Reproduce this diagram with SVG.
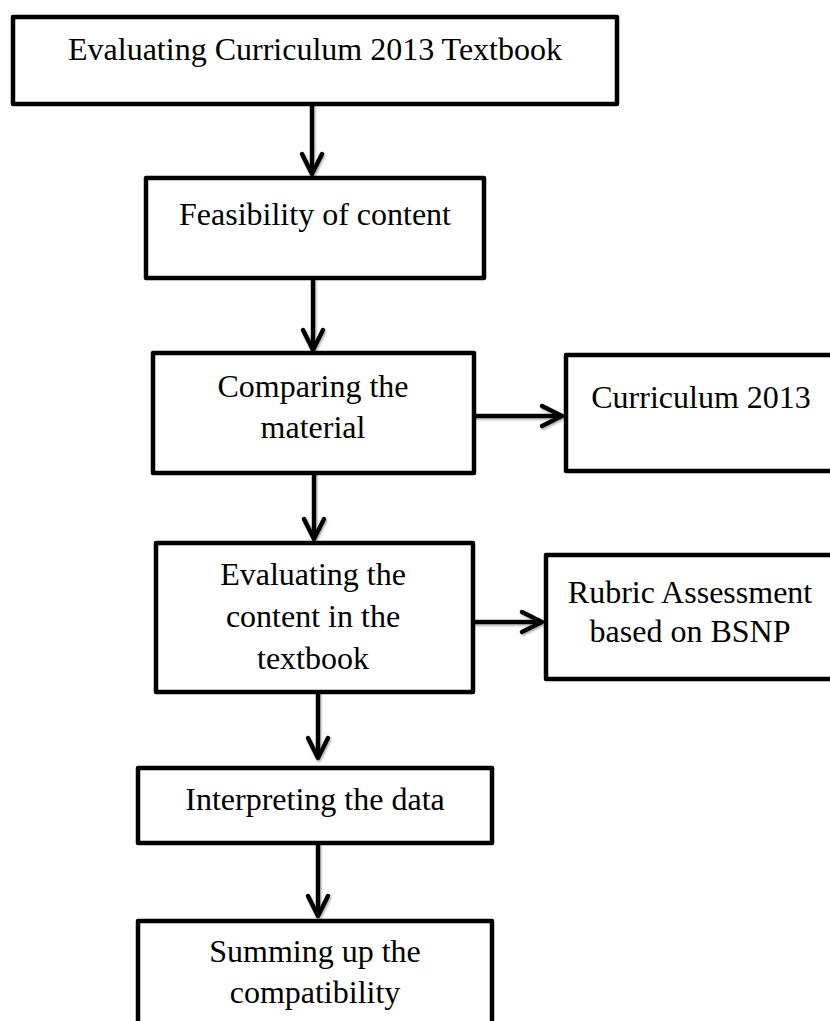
<svg xmlns="http://www.w3.org/2000/svg" width="830" height="1021" viewBox="0 0 830 1021">
  <style>
    .box { fill: #ffffff; stroke: #000000; stroke-width: 4.5; stroke-linejoin: round; }
    .lbl { font-family: "Liberation Serif", "Times New Roman", serif; font-size: 32px; fill: #000000; text-anchor: middle; }
    .conn { stroke: #000000; stroke-width: 4.5; fill: none; }
  </style>
  <defs>
    <filter id="shadow" filterUnits="userSpaceOnUse" x="0" y="0" width="830" height="1021">
      <feDropShadow dx="1" dy="1.5" stdDeviation="0.8" flood-color="#808080" flood-opacity="0.7"/>
    </filter>
    <marker id="chev" markerUnits="userSpaceOnUse" viewBox="-26 -15 30 30" markerWidth="30" markerHeight="30" refX="0" refY="0" orient="auto">
      <path d="M-20,-10 L0,0 L-20,10" fill="none" stroke="#000000" stroke-width="4.5" stroke-linecap="round" stroke-linejoin="round"/>
    </marker>
  </defs>

  <g id="connectors" filter="url(#shadow)">
    <path class="conn" d="M312,104 L312,174" marker-end="url(#chev)"/>
    <path class="conn" d="M313,278 L313,350" marker-end="url(#chev)"/>
    <path class="conn" d="M314,473 L314,539" marker-end="url(#chev)"/>
    <path class="conn" d="M318,692 L318,758" marker-end="url(#chev)"/>
    <path class="conn" d="M318,843 L318,916" marker-end="url(#chev)"/>
    <path class="conn" d="M474,416 L562,416" marker-end="url(#chev)"/>
    <path class="conn" d="M473,622 L542,622" marker-end="url(#chev)"/>
  </g>

  <g id="node-evaluating-textbook">
    <rect class="box" x="13" y="17" width="604" height="87"/>
    <text class="lbl" x="315" y="60">Evaluating Curriculum 2013 Textbook</text>
  </g>

  <g id="node-feasibility">
    <rect class="box" x="146" y="178" width="338" height="100"/>
    <text class="lbl" x="315" y="225">Feasibility of content</text>
  </g>

  <g id="node-comparing">
    <rect class="box" x="153" y="353" width="321" height="120"/>
    <text class="lbl" x="313" y="397">Comparing the</text>
    <text class="lbl" x="313" y="438">material</text>
  </g>

  <g id="node-curriculum">
    <rect class="box" x="566" y="355" width="272" height="116"/>
    <text class="lbl" x="701" y="408">Curriculum 2013</text>
  </g>

  <g id="node-evaluating-content">
    <rect class="box" x="156" y="543" width="317" height="149"/>
    <text class="lbl" x="313" y="585">Evaluating the</text>
    <text class="lbl" x="313" y="627">content in the</text>
    <text class="lbl" x="313" y="669">textbook</text>
  </g>

  <g id="node-rubric">
    <rect class="box" x="546" y="555" width="290" height="124"/>
    <text class="lbl" x="690" y="603">Rubric Assessment</text>
    <text class="lbl" x="690" y="642">based on BSNP</text>
  </g>

  <g id="node-interpreting">
    <rect class="box" x="138" y="768" width="354" height="75"/>
    <text class="lbl" x="315" y="810">Interpreting the data</text>
  </g>

  <g id="node-summing">
    <rect class="box" x="138" y="921" width="354" height="120"/>
    <text class="lbl" x="315" y="962">Summing up the</text>
    <text class="lbl" x="315" y="1003">compatibility</text>
  </g>
</svg>
